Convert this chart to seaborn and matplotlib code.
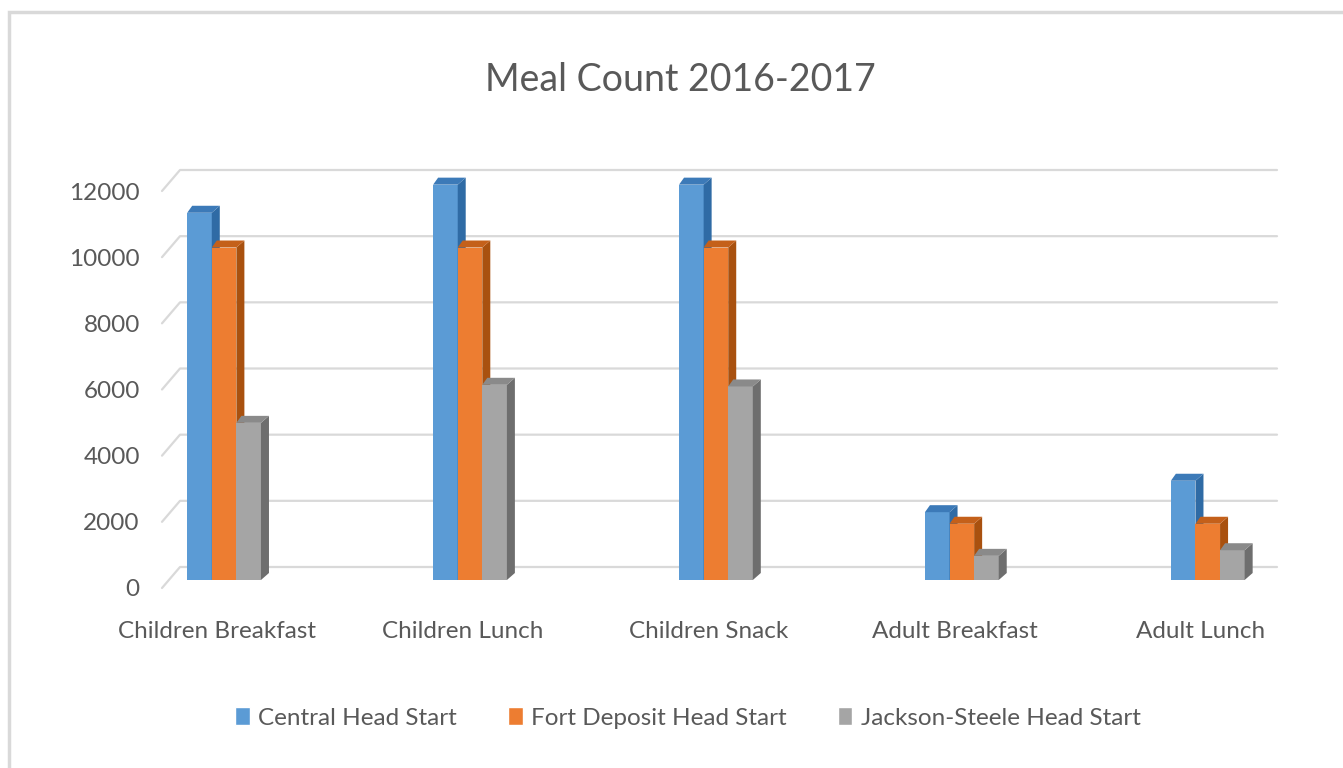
import pandas as pd
import seaborn as sns
import matplotlib.pyplot as plt
from matplotlib.patches import Polygon, Rectangle
from matplotlib.lines import Line2D
from matplotlib.transforms import IdentityTransform, ScaledTranslation


# Chart data

categories = ["Children Breakfast", "Children Lunch", "Children Snack",
              "Adult Breakfast", "Adult Lunch"]
sites = ["Central Head Start", "Fort Deposit Head Start", "Jackson-Steele Head Start"]
central = [11100, 11950, 11950, 2050, 3000]
fort_deposit = [10050, 10050, 10050, 1700, 1700]
jackson_steele = [4750, 5900, 5850, 730, 900]
y_ticks = [0, 2000, 4000, 6000, 8000, 10000, 12000]

df = pd.DataFrame({"Meal": categories, sites[0]: central,
                   sites[1]: fort_deposit, sites[2]: jackson_steele})
long_df = df.melt(id_vars="Meal", var_name="Site", value_name="Count")

front_cols = ["#5B9BD5", "#ED7D31", "#A5A5A5"]
side_cols = ["#2F6BA5", "#A9510F", "#6E6E6E"]
top_cols = ["#3C7AB8", "#C4601A", "#8A8A8A"]
text_col = "#595959"

sns.set_theme(style="white")
plt.rcParams["font.family"] = ["Lato", "DejaVu Sans"]

fig = plt.figure(figsize=(13.43, 7.68), dpi=100)
W, H = 1343, 768
left_px, right_px, zero_px, top_px = 162, 1277, 588, 191
ax = fig.add_axes([left_px / W, 1 - zero_px / H,
                   (right_px - left_px) / W, (zero_px - top_px) / H])

sns.barplot(data=long_df, x="Meal", y="Count", hue="Site", order=categories,
            hue_order=sites, palette=front_cols, width=0.3, gap=0,
            saturation=1, ax=ax)

xlim = (-0.224, 4.31)
ax.set_xlim(*xlim)
ax.set_ylim(0, 12000)
ax.set_autoscale_on(False)

# fake 3D: shift bars back a bit, add top and side faces
shift = ScaledTranslation(0.07, 0.08, fig.dpi_scale_trans)
dx, dy = 8, 7
for k, cont in enumerate(ax.containers):
    z = 2 + k * 0.2
    for bar in cont.patches:
        bar.set_zorder(z)
        bar.set_edgecolor("none")
        bar.set_clip_on(False)
        bar.set_transform(ax.transData + shift)
        (x0, y0), (x1, y1) = (ax.transData + shift).transform(
            [(bar.get_x(), bar.get_y()),
             (bar.get_x() + bar.get_width(), bar.get_y() + bar.get_height())])
        side = Polygon([(x1, y0), (x1 + dx, y0 + dy), (x1 + dx, y1 + dy), (x1, y1)],
                       closed=True, transform=IdentityTransform(), facecolor=side_cols[k],
                       edgecolor="none", zorder=z + 0.1, clip_on=False)
        top = Polygon([(x0, y1), (x0 + dx - 3, y1 + dy), (x1 + dx, y1 + dy), (x1, y1)],
                      closed=True, transform=IdentityTransform(), facecolor=top_cols[k],
                      edgecolor="none", zorder=z + 0.1, clip_on=False)
        ax.add_artist(side)
        ax.add_artist(top)

# back wall gridlines
for v in y_ticks:
    _, yp = ax.transData.transform((0, v))
    ax.add_artist(Line2D([left_px, left_px + 18, right_px], [yp, yp + 21, yp + 21],
                         transform=IdentityTransform(), color="#D9D9D9", lw=1.6,
                         zorder=1, clip_on=False))

ax.set_xlim(*xlim)
ax.set_ylim(0, 12000)
ax.set_yticks(y_ticks)
ax.set_xlabel("")
ax.set_ylabel("")
ax.grid(False)
sns.despine(ax=ax, left=True, bottom=True)
ax.tick_params(axis="y", length=0, pad=16, labelsize=17.5, labelcolor=text_col)
ax.tick_params(axis="x", length=0, pad=24, labelsize=17.5, labelcolor=text_col)

sns.move_legend(ax, "center", bbox_to_anchor=(688 / W, 1 - 718 / H),
                bbox_transform=fig.transFigure, ncol=3, frameon=False, title=None,
                fontsize=17.5, handlelength=0.6, handleheight=0.75, handletextpad=0.35,
                columnspacing=2.1, labelcolor=text_col)

fig.text(680 / W, 1 - 80 / H, "Meal Count 2016-2017", ha="center", va="center",
         fontsize=27, color=text_col)

fig.patches.append(Rectangle((9 / W, -0.05), 1.1, 1 - 12 / H + 0.05,
                             transform=fig.transFigure, fill=False,
                             edgecolor="#D9D9D9", lw=2.5))

fig.savefig("out.png", dpi=100)
